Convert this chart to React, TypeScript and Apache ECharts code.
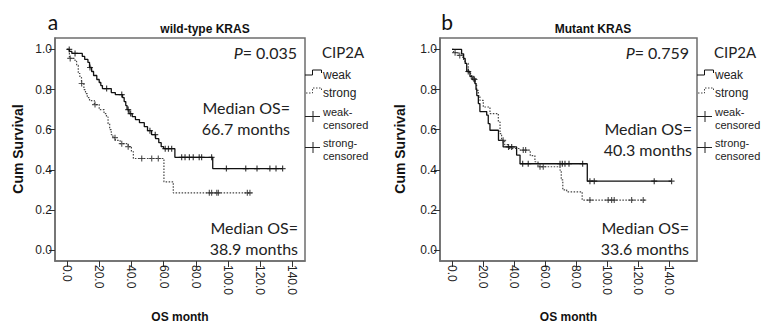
import React, { useEffect, useRef } from "react";
import * as echarts from "echarts";

// ---- data ----
const xTicks = [0, 20, 40, 60, 80, 100, 120, 140];
const yTicks = [0, 0.2, 0.4, 0.6, 0.8, 1.0];

// Panel a: wild-type KRAS  [month, cum survival]
const weakA: number[][] = [
  [0, 1.0], [1.5, 0.99], [3, 0.98], [9.5, 0.965], [11, 0.95], [13, 0.935], [14, 0.91],
  [15.3, 0.89], [16.5, 0.87], [18.5, 0.85], [20, 0.835], [21, 0.82], [22, 0.805],
  [27.5, 0.785], [30, 0.775], [34.5, 0.76], [35.5, 0.74], [36.5, 0.72], [37.3, 0.7],
  [38.5, 0.68], [40.5, 0.665], [42.5, 0.65], [45, 0.635], [48, 0.615], [50, 0.595],
  [52.5, 0.575], [55, 0.555], [57, 0.535], [58.5, 0.515], [60, 0.505], [67, 0.462],
  [90.5, 0.406], [134, 0.406],
];
const strongA: number[][] = [
  [0, 1.0], [1.5, 0.955], [5, 0.94], [6, 0.92], [7, 0.88], [8, 0.86], [9, 0.83],
  [10.5, 0.8], [11.5, 0.78], [12.6, 0.76], [14, 0.745], [17, 0.725], [20, 0.7],
  [23, 0.68], [24.5, 0.663], [25.5, 0.63], [26.5, 0.6], [27.5, 0.575], [28.5, 0.56],
  [30, 0.547], [33, 0.53], [38, 0.515], [40, 0.49], [41.2, 0.456], [60.2, 0.34],
  [66, 0.285], [114.7, 0.285],
];
const weakCensorA = [1.4, 5, 14.3, 24.6, 34, 38, 39.5, 51.5, 54.8, 61, 63, 65, 71.2, 73.3, 76, 78.4, 82.1, 83.6, 89.8, 99, 111, 118, 126, 129.8, 133.9];
const strongCensorA = [2, 9.1, 17.4, 29.8, 34, 38, 46.4, 52.6, 56.7, 88.4, 89.8, 93, 94, 112, 113.6];

// Panel b: Mutant KRAS
const weakB: number[][] = [
  [0, 1.0], [6.2, 0.978], [7.5, 0.955], [8.5, 0.93], [9.5, 0.89], [11.6, 0.865],
  [13, 0.85], [14.8, 0.83], [15.5, 0.8], [16, 0.77], [17, 0.73], [18, 0.69],
  [22.4, 0.672], [23.4, 0.63], [24.5, 0.597], [30, 0.547], [33, 0.514], [41.7, 0.473],
  [43.9, 0.43], [87.3, 0.343], [141.7, 0.343],
];
const strongB: number[][] = [
  [0, 1.0], [1, 0.984], [4, 0.97], [7, 0.95], [8.4, 0.93], [10.5, 0.887], [12, 0.87],
  [13.8, 0.854], [15, 0.83], [15.9, 0.796], [17, 0.77], [18, 0.746], [20.2, 0.713],
  [24.5, 0.68], [29.9, 0.638], [31, 0.58], [32, 0.547], [34, 0.525], [36.3, 0.506],
  [43.9, 0.498], [50.5, 0.47], [53.5, 0.44], [55.5, 0.415], [69.7, 0.398], [70.5, 0.35],
  [71.5, 0.3], [74, 0.29], [84, 0.249], [124.5, 0.249],
];
const weakCensorB = [10.5, 14.5, 36.5, 38.5, 45.6, 49.2, 69.7, 71.2, 72.9, 75.5, 84.3, 89, 91.8, 130.5, 141.7];
const strongCensorB = [2, 5, 14, 33, 46, 47.5, 56.8, 58.9, 89, 100.8, 103, 104.7, 115.9, 123.4];

const statsA = { p: "0.035", medWeak: "66.7", medStrong: "38.9" };
const statsB = { p: "0.759", medWeak: "40.3", medStrong: "33.6" };

// ---- helpers ----
function stepAt(curve: number[][], t: number) {
  let s = curve[0][1];
  for (const [ct, cs] of curve) if (ct <= t) s = cs;
  return s;
}
const CROSS = "path://M2,0H3V2H5V3H3V5H2V3H0V2H2Z";
const ARIAL = "Liberation Sans";
const CAL = "Lato";
const BOX = "#6e6e6e";

function xAxisCfg(gridIndex: number, min: number, max: number) {
  return {
    type: "value", gridIndex, min, max,
    axisLine: { show: true, onZero: false, lineStyle: { color: BOX, width: 1.5 } },
    axisTick: { show: true, length: 6, customValues: xTicks, lineStyle: { color: "#333", width: 1 } },
    axisLabel: {
      customValues: xTicks, rotate: -90, margin: 4,
      formatter: (v: number) => v.toFixed(1),
      fontFamily: ARIAL, fontSize: 12, color: "#222",
    },
    splitLine: { show: false },
  };
}
function yAxisCfg(gridIndex: number) {
  return {
    type: "value", gridIndex, min: -0.055, max: 1.057,
    axisLine: { show: true, onZero: false, lineStyle: { color: BOX, width: 1.5 } },
    axisTick: { show: true, length: 6, customValues: yTicks, lineStyle: { color: "#333", width: 1 } },
    axisLabel: {
      customValues: yTicks, margin: 3,
      formatter: (v: number) => v.toFixed(1),
      fontFamily: ARIAL, fontSize: 12, color: "#222",
    },
    splitLine: { show: false },
  };
}
function seriesFor(idx: number, weak: number[][], strong: number[][], wc: number[], sc: number[]) {
  return [
    {
      type: "line", xAxisIndex: idx, yAxisIndex: idx, step: "end", symbol: "none",
      data: weak, lineStyle: { color: "#111", width: 1.3 }, z: 3,
    },
    {
      type: "line", xAxisIndex: idx, yAxisIndex: idx, step: "end", symbol: "none",
      data: strong, lineStyle: { color: "#444", width: 1.2, type: [1.5, 1.5] }, z: 2,
    },
    {
      type: "scatter", xAxisIndex: idx, yAxisIndex: idx, symbol: CROSS, symbolSize: 6,
      data: wc.map((t) => [t, stepAt(weak, t)]), itemStyle: { color: "#111" }, z: 4,
    },
    {
      type: "scatter", xAxisIndex: idx, yAxisIndex: idx, symbol: CROSS, symbolSize: 6,
      data: sc.map((t) => [t, stepAt(strong, t)]), itemStyle: { color: "#333" }, z: 4,
    },
  ];
}
function txt(x: number, y: number, text: string, opts: any = {}) {
  return {
    type: "text", x, y, silent: true,
    style: {
      text, fill: opts.fill || "#222", font: opts.font || `12px ${ARIAL}`,
      textAlign: opts.align || "left", textVerticalAlign: "middle",
      lineHeight: opts.lineHeight,
    },
    rotation: opts.rotation || 0,
  };
}
function panelGraphics(ox: number, boxLeft: number, boxRight: number, titleLetter: string,
  letterX: number, subtitle: string, subX: number, stats: any, medTopRight: number,
  medTopY: number, medBotRight: number) {
  const L = boxRight; // legend starts at box right edge
  const cx = (boxLeft + boxRight) / 2;
  const big = `16px ${CAL}`;
  const small = `11px ${ARIAL}`;
  return [
    txt(letterX, 21, titleLetter, { font: `21px ${CAL}`, align: "center", fill: "#111" }),
    txt(subX, 29, subtitle, { font: `bold 12px ${ARIAL}`, align: "center", fill: "#111" }),
    txt(boxLeft - 37 + (ox ? -3 : 0), 149, "Cum Survival", { font: `bold 14px ${ARIAL}`, align: "center", rotation: Math.PI / 2, fill: "#111" }),
    txt(cx, 317, "OS month", { font: `bold 12px ${ARIAL}`, align: "center", fill: "#111" }),
    {
      type: "text", x: boxRight - 8, y: 52, silent: true,
      style: {
        text: `{i|P}= ${stats.p}`, font: big, fill: "#222", textAlign: "right", textVerticalAlign: "middle",
        rich: { i: { fontStyle: "italic", font: `italic 16px ${CAL}`, fill: "#222" } },
      },
    },
    txt(medTopRight, medTopY, "Median OS=", { font: big, align: "right" }),
    txt(medTopRight, medTopY + 21, `${stats.medWeak} months`, { font: big, align: "right" }),
    txt(medBotRight, 227, "Median OS=", { font: big, align: "right" }),
    txt(medBotRight, 248, `${stats.medStrong} months`, { font: big, align: "right" }),
    // legend
    txt(L + 17, 52, "CIP2A", { font: `15px ${CAL}`, fill: "#222" }),
    {
      type: "polyline", silent: true,
      shape: { points: [[L, 75], [L + 7.5, 75], [L + 7.5, 70], [L + 16.5, 70], [L + 16.5, 73]] },
      style: { stroke: "#111", lineWidth: 1, fill: null },
    },
    {
      type: "polyline", silent: true,
      shape: { points: [[L + 1, 93], [L + 7.5, 93], [L + 7.5, 88], [L + 16.5, 88], [L + 16.5, 91.5]] },
      style: { stroke: "#444", lineWidth: 1, lineDash: [1.5, 1.5], fill: null },
    },
    { type: "line", silent: true, shape: { x1: L, y1: 116.5, x2: L + 15, y2: 116.5 }, style: { stroke: "#222", lineWidth: 1 } },
    { type: "line", silent: true, shape: { x1: L + 8, y1: 111, x2: L + 8, y2: 122 }, style: { stroke: "#222", lineWidth: 1 } },
    { type: "line", silent: true, shape: { x1: L, y1: 147.5, x2: L + 15, y2: 147.5 }, style: { stroke: "#222", lineWidth: 1 } },
    { type: "line", silent: true, shape: { x1: L + 8, y1: 142, x2: L + 8, y2: 153 }, style: { stroke: "#222", lineWidth: 1 } },
    txt(L + 18, 75, "weak"),
    txt(L + 18, 93, "strong"),
    txt(L + 18, 111.5, "weak-", { font: small }),
    txt(L + 18, 124.5, "censored", { font: small }),
    txt(L + 18, 142.5, "strong-", { font: small }),
    txt(L + 18, 155.5, "censored", { font: small }),
  ];
}

export default function App() {
  const ref = useRef<HTMLDivElement>(null);
  useEffect(() => {
    if (!ref.current) return;
    const chart = echarts.init(ref.current, undefined, { renderer: "svg" });
    chart.setOption({
      animation: false,
      backgroundColor: "#ffffff",
      grid: [
        { left: 55, top: 38, width: 250, height: 223, show: true, borderColor: BOX, borderWidth: 1.5, backgroundColor: "transparent" },
        { left: 440, top: 38, width: 257, height: 223, show: true, borderColor: BOX, borderWidth: 1.5, backgroundColor: "transparent" },
      ],
      xAxis: [xAxisCfg(0, -7.45, 147.8), xAxisCfg(1, -7.74, 158.1)],
      yAxis: [yAxisCfg(0), yAxisCfg(1)],
      series: [
        ...seriesFor(0, weakA, strongA, weakCensorA, strongCensorA),
        ...seriesFor(1, weakB, strongB, weakCensorB, strongCensorB),
      ],
      graphic: [
        ...panelGraphics(0, 55, 305, "a", 53, "wild-type KRAS", 205, statsA, 290, 107, 298),
        ...panelGraphics(1, 440, 697, "b", 447, "Mutant KRAS", 593, statsB, 692, 128, 689),
      ],
    });
    return () => chart.dispose();
  }, []);
  return (
    <div
      ref={ref}
      style={{ position: "fixed", left: 0, top: 0, width: 768, height: 324, background: "#fff" }}
    />
  );
}
